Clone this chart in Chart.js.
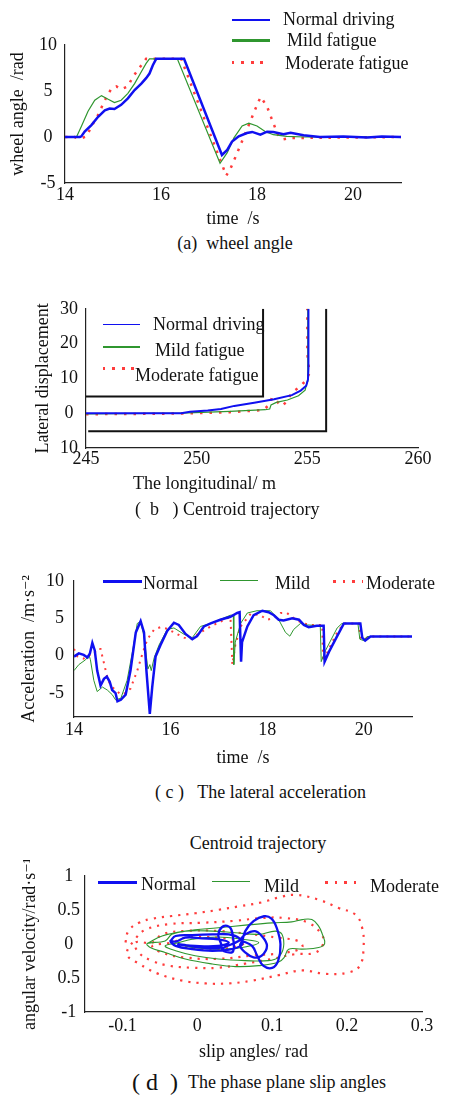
<!DOCTYPE html>
<html>
<head>
  <meta charset="utf-8">
  <title>Driving state comparison</title>
  <script src="https://cdn.jsdelivr.net/npm/chart.js"></script>
  <style>
    body {
      margin: 0;
      background: #fff;
    }

    #page {
      position: relative;
      width: 451px;
      height: 1095px;
      overflow: hidden;
      font-family: "Liberation Serif", "DejaVu Serif", serif;
      color: #111;
    }

    #page canvas {
      position: absolute;
      left: 0;
    }

    .txt {
      position: absolute;
      font-family: "Liberation Serif", "DejaVu Serif", serif;
      font-size: 18px;
      line-height: 20px;
      white-space: pre;
    }

    .center {
      transform: translateX(-50%);
    }

    .ln {
      position: absolute;
    }

    .dots {
      position: absolute;
      height: 2.5px;
      background: repeating-linear-gradient(90deg, #ff3c3c 0 2.5px, transparent 2.5px 9.5px);
    }
  </style>
</head>
<body>
  <div id="page">
    <canvas id="wheelChart" width="451" height="232" style="top:0px"></canvas>
    <canvas id="trackChart" width="451" height="205" style="top:290px"></canvas>
    <canvas id="accChart" width="451" height="210" style="top:560px"></canvas>
    <canvas id="phaseChart" width="451" height="205" style="top:860px"></canvas>

    <!-- (a) legend -->
    <div class="ln" style="left:232px;top:19px;width:38px;height:1.5px;background:#1010f0"></div>
    <div class="ln" style="left:232px;top:39px;width:38px;height:2.5px;background:#2f962f"></div>
    <div class="dots" style="left:232px;top:61px;width:38px"></div>
    <div class="txt" style="left:283px;top:9px">Normal driving</div>
    <div class="txt" style="left:287px;top:30px">Mild fatigue</div>
    <div class="txt" style="left:285px;top:53px">Moderate fatigue</div>
    <div class="txt center" style="left:235px;top:233px">(a)  wheel angle</div>

    <!-- (b) legend -->
    <div class="ln" style="left:103px;top:324px;width:37px;height:1.2px;background:#1010f0"></div>
    <div class="ln" style="left:103px;top:346px;width:37px;height:2px;background:#2f962f"></div>
    <div class="dots" style="left:103px;top:367px;width:37px"></div>
    <div class="txt" style="left:153px;top:314px">Normal driving</div>
    <div class="txt" style="left:155px;top:340px">Mild fatigue</div>
    <div class="txt" style="left:135px;top:365px">Moderate fatigue</div>
    <div class="txt" style="left:133px;top:473px">The longitudinal/ m</div>
    <div class="txt" style="left:135px;top:499px">(  b   ) Centroid trajectory</div>

    <!-- (c) legend -->
    <div class="ln" style="left:103px;top:580px;width:39px;height:2.5px;background:#1010f0"></div>
    <div class="ln" style="left:220px;top:580px;width:38px;height:1.2px;background:#2f962f"></div>
    <div class="dots" style="left:333px;top:580px;width:30px"></div>
    <div class="txt" style="left:143px;top:573px">Normal</div>
    <div class="txt" style="left:275px;top:573px">Mild</div>
    <div class="txt" style="left:366px;top:573px">Moderate</div>
    <div class="txt" style="left:155px;top:782px">( c )   The lateral acceleration</div>

    <!-- (d) legend -->
    <div class="txt center" style="left:258px;top:833px">Centroid trajectory</div>
    <div class="ln" style="left:98px;top:881px;width:39px;height:2.5px;background:#1010f0"></div>
    <div class="ln" style="left:212px;top:881px;width:38px;height:1.2px;background:#2f962f"></div>
    <div class="dots" style="left:325px;top:881px;width:32px"></div>
    <div class="txt" style="left:141px;top:874px">Normal</div>
    <div class="txt" style="left:264px;top:876px">Mild</div>
    <div class="txt" style="left:370px;top:876px">Moderate</div>
    <div class="txt" style="left:132px;top:1069px;font-size:24px;line-height:26px">( d  )</div>
    <div class="txt" style="left:188px;top:1072px">The phase plane slip angles</div>
  </div>

  <script>
    // ---- (a) wheel angle ----
    const wheelNormalT = [14, 14.31, 14.34, 14.41, 14.55, 14.69, 14.83, 14.93, 15.03, 15.17, 15.31, 15.45, 15.59, 15.69, 15.76, 15.83, 15.9, 16.48, 17.27, 17.38, 17.48, 17.62, 17.79, 17.9, 18.07, 18.21, 18.34, 18.55, 18.7, 18.97, 19.31, 19.8, 20.3, 20.6, 21];
    const wheelNormalV = [0, 0, 0.07, 0.6, 1.3, 2.2, 2.9, 3.1, 3.05, 3.5, 4.2, 5.1, 5.8, 6.4, 6.9, 7.8, 8.5, 8.5, -1.95, -1.4, -0.5, 0.07, 0.43, 0.55, 0.25, 0.58, 0.55, 0.3, 0.45, 0.18, 0, 0.05, -0.05, 0.05, 0];
    const wheelMildT = [14, 14.24, 14.34, 14.48, 14.62, 14.76, 14.9, 15.03, 15.17, 15.31, 15.45, 15.59, 15.69, 15.76, 16.34, 17.23, 17.38, 17.52, 17.69, 17.83, 18.0, 18.17, 18.34, 18.62, 19.0, 21];
    const wheelMildV = [0, 0, 1.15, 2.8, 4.0, 4.5, 4.1, 3.75, 4.0, 4.75, 5.8, 7.1, 8.0, 8.5, 8.5, -2.85, -1.7, -0.1, 1.2, 1.5, 1.2, 0.6, 0.25, 0.07, 0, 0];
    const wheelModT = [14, 14.2, 14.27, 14.36, 14.45, 14.55, 14.69, 14.83, 14.97, 15.07, 15.17, 15.31, 15.41, 15.52, 15.62, 15.69, 16.42, 17.36, 17.45, 17.59, 17.76, 17.9, 18.03, 18.08, 18.21, 18.34, 18.45, 18.55, 18.7, 19.0, 21];
    const wheelModV = [0, 0, -0.15, -0.1, 0.07, 1.15, 2.4, 4.0, 5.3, 5.5, 5.2, 5.5, 6.5, 7.3, 8.0, 8.5, 8.5, -4.2, -3.4, -1.7, 0.43, 2.2, 3.85, 4.35, 3.3, 1.5, 0.07, -0.25, -0.1, -0.1, 0];
    const wheelXTicks = [14, 16, 18, 20];
    const wheelYTicks = [10, 5, 0, -5];

    // ---- (b) centroid trajectory ----
    const trackNormalX = [245, 249.3, 249.7, 250.5, 251.1, 251.7, 252.6, 253.5, 254.3, 254.7, 254.95, 255.03, 255.05, 255.05];
    const trackNormalY = [0, 0, 0.4, 0.75, 1.2, 2.1, 3.0, 4.0, 5.2, 6.5, 7.9, 9.7, 12.9, 30];
    const trackMildX = [245, 249.3, 251.5, 253.1, 253.3, 253.36, 253.6, 254.1, 254.6, 254.9, 255.0, 255.02, 255.02];
    const trackMildY = [-0.2, 0, 0.5, 1.0, 1.2, 2.4, 3.1, 3.8, 5.0, 6.6, 9.2, 12.9, 30];
    const trackModX = [245, 249.3, 251.5, 253.0, 253.3, 253.4, 253.6, 253.85, 254.1, 254.3, 254.65, 254.9, 255.1, 255.05, 255.0, 255.0];
    const trackModY = [-0.3, -0.1, 0.3, 0.9, 2.5, 4.5, 3.5, 2.0, 3.5, 6.0, 7.5, 9.2, 11.5, 14, 17, 30];
    const roadInnerX = [245, 253, 253];
    const roadInnerY = [4.8, 4.8, 30];
    const roadOuterX = [245.1, 255.85, 255.85];
    const roadOuterY = [-5.2, -5.2, 30];
    const trackXTicks = [245, 250, 255, 260];
    const trackYTicks = [30, 20, 10, 0, -10];
    const trackYLabels = ['30', '20', '10', '0', '10'];

    // ---- (c) lateral acceleration ----
    const accNormalT = [14.0, 14.1, 14.2, 14.28, 14.33, 14.38, 14.43, 14.48, 14.55, 14.62, 14.68, 14.74, 14.79, 14.86, 14.9, 14.97, 15.07, 15.17, 15.28, 15.38, 15.45, 15.5, 15.57, 15.62, 15.69, 15.79, 15.93, 16.07, 16.17, 16.31, 16.45, 16.55, 16.69, 16.83, 17.03, 17.24, 17.38, 17.43, 17.46, 17.48, 17.59, 17.72, 17.9, 18.03, 18.14, 18.24, 18.34, 18.52, 18.66, 18.76, 18.86, 19.03, 19.17, 19.19, 19.28, 19.45, 19.59, 19.93, 19.97, 20.03, 20.14, 21.0];
    const accNormalV = [-0.13, 0.3, 0.1, -0.25, 0.3, 1.7, 0.7, -2.0, -4.0, -3.1, -2.8, -3.5, -4.6, -5.0, -6.1, -5.9, -5.2, -2.0, 3.1, 4.6, 3.1, -2.0, -7.8, -4.2, -0.1, 1.4, 3.3, 4.4, 4.1, 2.9, 2.2, 2.6, 3.9, 4.3, 4.8, 5.2, 5.7, 5.8, -0.8, 1.8, 3.9, 5.4, 6.0, 5.8, 5.4, 4.8, 4.7, 5.0, 4.8, 4.1, 3.8, 4.0, 4.0, -0.8, 0.5, 2.6, 4.3, 4.3, 2.4, 2.0, 2.55, 2.55];
    const accMildT = [14.0, 14.1, 14.24, 14.31, 14.34, 14.41, 14.48, 14.59, 14.69, 14.79, 14.86, 14.97, 15.1, 15.21, 15.31, 15.38, 15.45, 15.53, 15.57, 15.6, 15.66, 15.76, 15.93, 16.07, 16.28, 16.45, 16.62, 16.83, 17.24, 17.3, 17.31, 17.34, 17.45, 17.59, 17.79, 18.07, 18.24, 18.38, 18.47, 18.55, 18.69, 18.83, 19.1, 19.12, 19.21, 19.45, 19.55, 19.88, 19.92, 20.0, 20.07, 21.0];
    const accMildV = [-2.0, -1.2, -0.55, 0.1, -0.55, -3.3, -4.8, -4.2, -4.6, -5.2, -5.9, -5.7, -3.3, 0.5, 4.3, 4.55, 2.6, -1.8, -1.2, -2.0, -0.3, 1.4, 3.5, 3.7, 2.85, 2.4, 3.9, 4.3, 5.4, 5.4, -1.2, 1.8, 4.3, 5.7, 6.0, 6.0, 4.8, 3.1, 2.6, 3.5, 4.3, 4.1, 4.0, -0.8, 0.7, 3.7, 4.3, 4.3, 2.2, 2.0, 2.55, 2.55];
    const accModT = [14.0, 14.07, 14.2, 14.31, 14.4, 14.48, 14.55, 14.62, 14.69, 14.76, 14.86, 14.97, 15.07, 15.17, 15.31, 15.41, 15.52, 15.66, 15.79, 15.93, 16.07, 16.28, 16.41, 16.62, 16.83, 17.24, 17.28, 17.34, 17.45, 17.66, 17.86, 18.0, 18.14, 18.28, 18.41, 18.59, 18.76, 18.9, 19.14, 19.16, 19.28, 19.45, 19.59, 19.9, 19.93, 20.03, 20.1, 21.0];
    const accModV = [0.9, -0.1, -0.4, 0.1, 0.1, 0.9, 0.9, -1.0, -2.9, -4.0, -4.6, -5.2, -5.0, -4.4, -2.0, 0.1, 2.2, 3.5, 3.8, 3.6, 3.1, 2.4, 2.2, 3.1, 3.9, 5.2, -1.2, 1.4, 3.9, 5.6, 5.4, 4.8, 5.0, 5.7, 5.7, 4.8, 4.3, 4.1, 4.1, -0.8, 0.9, 3.1, 4.3, 4.3, 2.4, 2.2, 2.55, 2.55];
    const accXTicks = [14, 16, 18, 20];
    const accYTicks = [10, 5, 0, -5];

    // ---- (d) phase plane ----
    const phaseNormalX = [-0.036, -0.029, -0.007, 0.02, 0.042, 0.055, 0.06, 0.046, 0.02, -0.007, -0.029, -0.036,
      -0.029, -0.016, 0.006, 0.028, 0.042, 0.028, -0.003, -0.025,
      0.031, 0.028, 0.035, 0.044, 0.048, 0.048, 0.042, 0.033,
      0.055, 0.064, 0.077, 0.086, 0.093, 0.086, 0.075, 0.064, 0.057,
      0.06, 0.064, 0.075, 0.089, 0.099, 0.106, 0.111, 0.108, 0.1, 0.088, 0.08, 0.073, 0.06];
    const phaseNormalY = [0.043, 0.116, 0.13, 0.14, 0.14, 0.092, -0.005, -0.077, -0.101, -0.077, -0.029, 0.043,
      0.034, 0.092, 0.082, 0.068, 0.019, -0.029, -0.029, -0.005,
      -0.053, 0.14, 0.261, 0.237, 0.068, -0.101, -0.126, -0.077,
      0.043, 0.14, 0.188, 0.116, -0.029, -0.174, -0.198, -0.126, -0.029,
      0.043, 0.188, 0.333, 0.406, 0.372, 0.237, -0.005, -0.246, -0.353, -0.319, -0.174, -0.029, 0.043];
    const phaseMildX = [-0.067, -0.047, -0.016, 0.028, 0.064, 0.1, 0.126, 0.14, 0.153, 0.162, 0.167, 0.17, 0.162, 0.14, 0.122, 0.116, 0.108, 0.082, 0.051, 0.02, -0.016, -0.043, -0.063, -0.067,
      -0.043, -0.034, -0.016, 0.02, 0.051, 0.082, 0.104, 0.113, 0.115, 0.108, 0.095, 0.064, 0.028, -0.003, -0.029, -0.043,
      -0.025, -0.007, 0.028, 0.06, 0.082, 0.06, 0.028, -0.007, -0.025];
    const phaseMildY = [0.005, 0.116, 0.188, 0.237, 0.275, 0.309, 0.324, 0.357, 0.357, 0.261, 0.14, 0.005, -0.053, -0.077, -0.077, -0.198, -0.27, -0.319, -0.333, -0.295, -0.222, -0.126, -0.053, 0.005,
      0.043, 0.14, 0.188, 0.188, 0.164, 0.14, 0.188, 0.14, -0.053, -0.198, -0.246, -0.246, -0.222, -0.174, -0.101, -0.029,
      0.019, 0.068, 0.101, 0.068, 0.019, -0.053, -0.077, -0.053, -0.005];
    const phaseModX = [-0.096, -0.092, -0.078, -0.06, -0.034, -0.003, 0.028, 0.055, 0.086, 0.108, 0.13, 0.162, 0.188, 0.211, 0.22, 0.222, 0.217, 0.202, 0.171, 0.14, 0.108, 0.073, 0.042, 0.011, -0.02, -0.052, -0.078, -0.094,
      -0.083, -0.069, -0.038, 0.006, 0.051, 0.086, 0.117, 0.148, 0.166, 0.168, 0.157, 0.131, 0.1, 0.064, 0.028, -0.007, -0.038, -0.06, -0.078, -0.083,
      -0.06, -0.047, -0.016, 0.028, 0.073, 0.108, 0.135, 0.14, 0.117, 0.073, 0.028, -0.016, -0.047, -0.06,
      -0.034, -0.016, 0.028, 0.064, 0.028, -0.016, -0.034];
    const phaseModY = [0.02, 0.19, 0.31, 0.37, 0.41, 0.45, 0.5, 0.55, 0.61, 0.68, 0.72, 0.65, 0.53, 0.43, 0.24, -0.05, -0.32, -0.42, -0.44, -0.39, -0.46, -0.54, -0.58, -0.58, -0.54, -0.44, -0.29, -0.15,
      0.07, 0.21, 0.29, 0.31, 0.34, 0.38, 0.38, 0.31, 0.14, 0.0, -0.13, -0.15, -0.22, -0.29, -0.35, -0.35, -0.32, -0.25, -0.13, 0.02,
      0.02, 0.14, 0.19, 0.19, 0.14, 0.09, 0.04, -0.05, -0.13, -0.17, -0.22, -0.2, -0.13, -0.03,
      0.02, 0.09, 0.09, 0.02, -0.08, -0.05, 0.02];
    const phaseXTicks = [-0.1, 0, 0.1, 0.2, 0.3];
    const phaseXLabels = ['-0.1', '0', '0.1', '0.2', '0.3'];
    const phaseYTicks = [1, 0.5, 0, -0.5, -1];
    const phaseYLabels = ['1', '0.5', '0', '0.5', '-1'];

    const FONT = '"Liberation Serif", "DejaVu Serif", serif';
    const TEXT = '#111';
    const AXIS = '#222';
    const BLUE = '#1010f0';
    const GREEN = '#2f962f';
    const RED = '#ff3c3c';

    function pts(xs, ys) {
      return xs.map((x, i) => ({ x: x, y: ys[i] }));
    }

    function series(label, xs, ys, color, width, dash, tension) {
      return {
        label: label,
        data: pts(xs, ys),
        showLine: true,
        borderColor: color,
        backgroundColor: color,
        borderWidth: width,
        borderDash: dash || [],
        pointRadius: 0,
        fill: false,
        tension: tension || 0
      };
    }

    function makePanel(id, area, xo, yo, datasets) {
      const cv = document.getElementById(id);
      const W = cv.width, H = cv.height;
      const font = { family: FONT, size: 18 };
      const xLabels = xo.labels || xo.ticks.map(String);
      const yLabels = yo.labels || yo.ticks.map(String);
      return new Chart(cv, {
        type: 'scatter',
        data: { datasets: datasets },
        options: {
          responsive: false,
          animation: false,
          events: [],
          layout: { padding: { left: 0, top: area.top, right: W - area.right, bottom: 0 } },
          plugins: { legend: { display: false }, tooltip: { enabled: false } },
          scales: {
            x: {
              type: 'linear',
              min: xo.min,
              max: xo.max,
              grid: { display: false, drawTicks: false },
              border: { display: true, color: AXIS, width: 1.2 },
              afterBuildTicks: s => { s.ticks = xo.ticks.map(v => ({ value: v })); },
              afterFit: s => { s.height = H - area.bottom; },
              ticks: {
                color: TEXT, font: font, padding: xo.tickPad, maxRotation: 0, autoSkip: false,
                callback: (v, i) => xLabels[i]
              },
              title: {
                display: !!xo.title, text: xo.title || '', color: TEXT, font: font,
                padding: { top: 0, bottom: xo.titlePad || 0 }
              }
            },
            y: {
              type: 'linear',
              min: yo.min,
              max: yo.max,
              grid: { display: false, drawTicks: false },
              border: { display: true, color: AXIS, width: 1.2 },
              afterBuildTicks: s => { s.ticks = yo.ticks.map(v => ({ value: v })); },
              afterFit: s => { s.width = area.left; },
              ticks: {
                color: TEXT, font: font, padding: yo.tickPad, crossAlign: yo.cross || 'near', autoSkip: false,
                callback: (v, i) => yLabels[i]
              },
              title: {
                display: true, text: yo.title, color: TEXT, font: font,
                padding: { top: yo.titlePad, bottom: 0 }
              }
            }
          }
        }
      });
    }

    window.onload = function() {
      makePanel('wheelChart', { top: 45, left: 65, right: 401, bottom: 183 },
        { min: 14, max: 21, ticks: wheelXTicks, tickPad: 1, title: 'time  /s', titlePad: 2 },
        { min: -5, max: 10, ticks: wheelYTicks, tickPad: 8, cross: 'center', title: 'wheel angle  /rad', titlePad: 7 },
        [
          series('Normal driving', wheelNormalT, wheelNormalV, BLUE, 2.5),
          series('Mild fatigue', wheelMildT, wheelMildV, GREEN, 1.2),
          series('Moderate fatigue', wheelModT, wheelModV, RED, 2.5, [2.5, 6.5])
        ]);

      makePanel('trackChart', { top: 18, left: 86, right: 418, bottom: 158 },
        { min: 245, max: 260, ticks: trackXTicks, tickPad: 0 },
        { min: -10, max: 30, ticks: trackYTicks, labels: trackYLabels, tickPad: 8, cross: 'center', title: 'Lateral displacement', titlePad: 32 },
        [
          series('Normal driving', trackNormalX, trackNormalY, BLUE, 2),
          series('Mild fatigue', trackMildX, trackMildY, GREEN, 1.2),
          series('Moderate fatigue', trackModX, trackModY, RED, 2.5, [2.5, 7]),
          series('Road inner edge', roadInnerX, roadInnerY, '#111', 2),
          series('Road outer edge', roadOuterX, roadOuterY, '#111', 2)
        ]);

      makePanel('accChart', { top: 17, left: 74, right: 412, bottom: 157 },
        { min: 14, max: 21, ticks: accXTicks, tickPad: 2, title: 'time  /s', titlePad: 1 },
        { min: -8.2, max: 10, ticks: accYTicks, tickPad: 10, title: 'Acceleration  /m·s⁻²', titlePad: 18 },
        [
          series('Normal', accNormalT, accNormalV, BLUE, 2.5),
          series('Mild', accMildT, accMildV, GREEN, 1),
          series('Moderate', accModT, accModV, RED, 2, [2, 5])
        ]);

      makePanel('phaseChart', { top: 14, left: 85, right: 422, bottom: 152 },
        { min: -0.15, max: 0.3, ticks: phaseXTicks, labels: phaseXLabels, tickPad: 3, title: 'slip angles/ rad', titlePad: 2 },
        { min: -1, max: 1, ticks: phaseYTicks, labels: phaseYLabels, tickPad: 5, cross: 'center', title: 'angular velocity/rad·s⁻¹', titlePad: 19 },
        [
          series('Normal', phaseNormalX, phaseNormalY, BLUE, 2.3, [], 0.4),
          series('Mild', phaseMildX, phaseMildY, GREEN, 1.1, [], 0.4),
          series('Moderate', phaseModX, phaseModY, RED, 2.2, [2.2, 6], 0.4)
        ]);
    };
  </script>
</body>
</html>
